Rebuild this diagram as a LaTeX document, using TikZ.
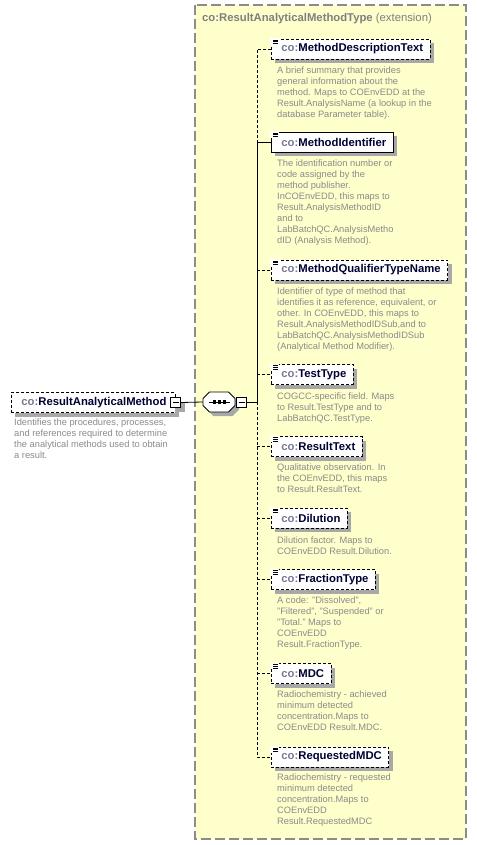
\documentclass[tikz,border=0pt]{standalone}
\usepackage{fontspec}
\setmainfont{Liberation Sans}
\usetikzlibrary{shadows}
\definecolor{boxyellow}{HTML}{FFFFCC}
\definecolor{framegray}{HTML}{8C8C8C}
\definecolor{headgray}{HTML}{7F7F7F}
\definecolor{descgray}{HTML}{8A8A8A}
\definecolor{prefixgray}{HTML}{7A7A94}
\definecolor{namecol}{HTML}{000033}
\definecolor{shadowgray}{HTML}{A8A8A8}
\newcommand{\descfont}{\fontsize{9.3}{11}\selectfont}
\newcommand{\namefont}{\fontsize{11.3}{13}\selectfont\bfseries}
\newcommand{\qn}[1]{\hspace*{10pt}{\color{prefixgray}co:}{\color{namecol}#1}\hspace*{7pt}}
\newcommand{\docicon}[1]{%
  \fill[white] ([xshift=-0.6pt,yshift=0.6pt]#1.north west) rectangle ([xshift=8pt,yshift=-6pt]#1.north west);
  \foreach \d in {1.3,3.1,4.9}{\draw[line width=0.7pt] ([xshift=2pt,yshift=-\d pt]#1.north west) -- ([xshift=7pt,yshift=-\d pt]#1.north west);}}
\tikzset{
  shad/.style={general shadow={fill=shadowgray, shadow xshift=4pt, shadow yshift=-4pt}},
  elem/.style={shad, draw=black, fill=white, line width=0.8pt, inner xsep=0pt, inner ysep=0pt, minimum height=20pt, anchor=west, font=\namefont},
  optional/.style={dash pattern=on 3pt off 2pt},
  desc/.style={anchor=north west, inner sep=0pt, align=left, font=\descfont, text=descgray},
  link/.style={line width=0.8pt, draw=black},
  optlink/.style={link, dash pattern=on 3pt off 2pt},
  minus/.style={draw=black, fill=white, line width=0.8pt, minimum size=10pt, inner sep=0pt,
    path picture={\draw[line width=0.8pt] ([xshift=2pt]path picture bounding box.west) -- ([xshift=-2pt]path picture bounding box.east);}},
  container/.style={draw=framegray, fill=boxyellow, line width=1.4pt, dash pattern=on 10pt off 4pt},
  seqshape/.style={draw=black, fill=white, line width=0.8pt, shad},
}
\begin{document}
\begin{tikzpicture}[x=1pt,y=-1pt]
\useasboundingbox (0,0) rectangle (476,845);
% container
\draw[container] (195,5) rectangle (466,839);
\node[anchor=west, inner sep=0pt, font=\namefont, text=headgray] (head) at (202,19) {co:ResultAnalyticalMethodType {\mdseries (extension)}};

% root element
\node[elem, optional, text width=164pt, align=left] (root) at (11,402.5) {\hspace*{10pt}{\color{prefixgray}co:}{\color{namecol}ResultAnalyticalMethod}};
\node[minus, shad] (rootminus) at (root.east) {};
\node[desc] (rootdesc) at (14,419) {Identifies the procedures, processes,\\and references required to determine\\the analytical methods used to obtain\\a result.};

% sequence compositor
\node[inner sep=0pt, minimum width=32pt, minimum height=20pt] (seq) at (219,402) {};
\path[seqshape] (203,398.5) -- (209.5,392) -- (228.5,392) -- (235,398.5) -- (235,405.5) -- (228.5,412) -- (209.5,412) -- (203,405.5) -- cycle;
\draw[line width=0.8pt] (209,402) -- (230,402);
\foreach \xx in {214.5,219.5,224.5}{\fill (\xx-1.6,400.4) rectangle (\xx+1.6,403.6);}
\node[minus] (seqminus) at (241.5,402) {};
\coordinate (sp) at (257,402);

% child elements
\node[elem, optional] (mdt) at (271,49) {\qn{MethodDescriptionText}};
\node[elem] (mi) at (271,142) {\qn{MethodIdentifier}};
\node[elem, optional] (mqtn) at (271,270) {\qn{MethodQualifierTypeName}};
\node[elem, optional] (tt) at (271,374.5) {\qn{TestType}};
\node[elem, optional] (rt) at (271,446.5) {\qn{ResultText}};
\node[elem, optional] (dil) at (271,518) {\qn{Dilution}};
\node[elem, optional] (ft) at (271,579.5) {\qn{FractionType}};
\node[elem, optional] (mdc) at (271,673.5) {\qn{MDC}};
\node[elem, optional] (rmdc) at (271,757) {\qn{RequestedMDC}};
\foreach \n in {mdt,mi,mqtn,tt,rt,dil,ft,mdc,rmdc}{\docicon{\n}}

% descriptions
\node[desc] (mdtdesc) at (277,67) {A brief summary that provides\\general information about the\\method. Maps to COEnvEDD at the\\Result.AnalysisName (a lookup in the\\database Parameter table).};
\node[desc] (midesc) at (277,160) {The identification number or\\code assigned by the\\method publisher.\\InCOEnvEDD, this maps to\\Result.AnalysisMethodID\\and to\\LabBatchQC.AnalysisMetho\\dID (Analysis Method).};
\node[desc] (mqtndesc) at (277,288) {Identifier of type of method that\\identifies it as reference, equivalent, or\\other. In COEnvEDD, this maps to\\Result.AnalysisMethodIDSub,and to\\LabBatchQC.AnalysisMethodIDSub\\(Analytical Method Modifier).};
\node[desc] (ttdesc) at (277,393) {COGCC-specific field. Maps\\to Result.TestType and to\\LabBatchQC.TestType.};
\node[desc] (rtdesc) at (277,464) {Qualitative observation. In\\the COEnvEDD, this maps\\to Result.ResultText.};
\node[desc] (dildesc) at (277,537) {Dilution factor. Maps to\\COEnvEDD Result.Dilution.};
\node[desc] (ftdesc) at (277,597) {A code: "Dissolved",\\"Filtered", "Suspended" or\\"Total." Maps to\\COEnvEDD\\Result.FractionType.};
\node[desc] (mdcdesc) at (277,691) {Radiochemistry - achieved\\minimum detected\\concentration.Maps to\\COEnvEDD Result.MDC.};
\node[desc] (rmdcdesc) at (277,774) {Radiochemistry - requested\\minimum detected\\concentration.Maps to\\COEnvEDD\\Result.RequestedMDC};

% connectors
\draw[link] (rootminus.east) -- (seq.west);
\draw[link] (seqminus.east) -- (sp);
\draw[optlink] (mdt.west) -- (mdt.west -| sp) -- (mi.west -| sp);
\draw[link] (mi.west) -- (mi.west -| sp) -- (sp);
\draw[optlink] (sp) -- (rmdc.west -| sp) -- (rmdc.west);
\foreach \n in {mqtn,tt,rt,dil,ft,mdc}{\draw[optlink] (\n.west -| sp) -- (\n.west);}
\end{tikzpicture}
\end{document}
